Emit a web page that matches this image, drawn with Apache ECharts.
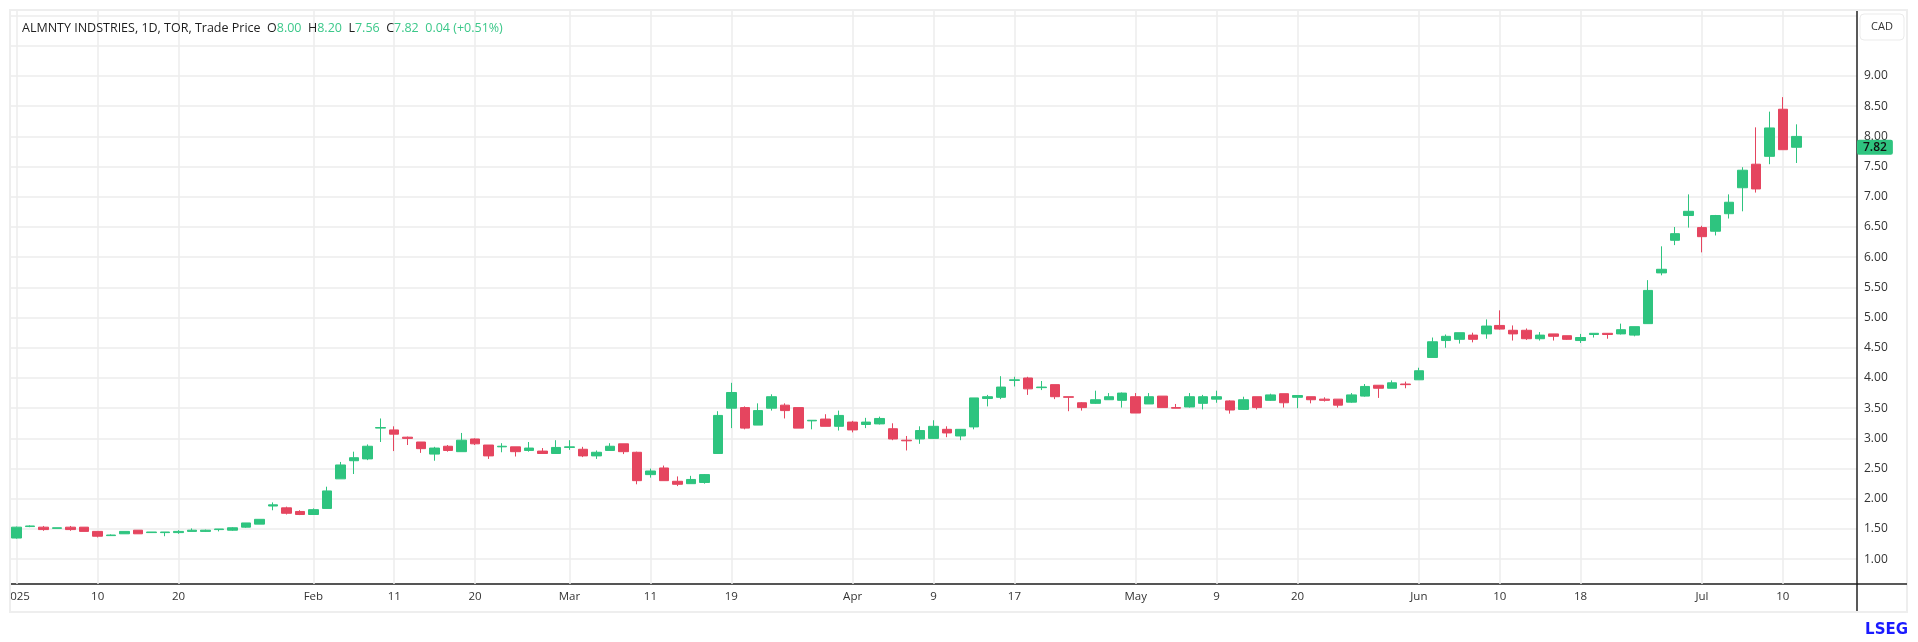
<!DOCTYPE html>
<html>
<head>
<meta charset="utf-8">
<title>ALMNTY INDSTRIES</title>
<script src="https://cdn.jsdelivr.net/npm/echarts@6/dist/echarts.min.js"></script>
<style>
  html, body { margin: 0; padding: 0; background: #fff; }
  #main { width: 1918px; height: 642px; }
</style>
</head>
<body>
<div id="main"></div>
<script type="text/javascript">
// trading days (TSX, 2025)
var dates = [
  '2025-01-02','2025-01-03','2025-01-06','2025-01-07','2025-01-08','2025-01-09','2025-01-10','2025-01-13','2025-01-14','2025-01-15',
  '2025-01-16','2025-01-17','2025-01-20','2025-01-21','2025-01-22','2025-01-23','2025-01-24','2025-01-27','2025-01-28','2025-01-29',
  '2025-01-30','2025-01-31',
  '2025-02-03','2025-02-04','2025-02-05','2025-02-06','2025-02-07','2025-02-10','2025-02-11','2025-02-12','2025-02-13','2025-02-14',
  '2025-02-18','2025-02-19','2025-02-20','2025-02-21','2025-02-24','2025-02-25','2025-02-26','2025-02-27','2025-02-28',
  '2025-03-03','2025-03-04','2025-03-05','2025-03-06','2025-03-07','2025-03-10','2025-03-11','2025-03-12','2025-03-13','2025-03-14',
  '2025-03-17','2025-03-18','2025-03-19','2025-03-20','2025-03-21','2025-03-24','2025-03-25','2025-03-26','2025-03-27','2025-03-28',
  '2025-03-31',
  '2025-04-01','2025-04-02','2025-04-03','2025-04-04','2025-04-07','2025-04-08','2025-04-09','2025-04-10','2025-04-11','2025-04-14',
  '2025-04-15','2025-04-16','2025-04-17','2025-04-21','2025-04-22','2025-04-23','2025-04-24','2025-04-25','2025-04-28','2025-04-29',
  '2025-04-30',
  '2025-05-01','2025-05-02','2025-05-05','2025-05-06','2025-05-07','2025-05-08','2025-05-09','2025-05-12','2025-05-13','2025-05-14',
  '2025-05-15','2025-05-16','2025-05-20','2025-05-21','2025-05-22','2025-05-23','2025-05-26','2025-05-27','2025-05-28','2025-05-29',
  '2025-05-30',
  '2025-06-02','2025-06-03','2025-06-04','2025-06-05','2025-06-06','2025-06-09','2025-06-10','2025-06-11','2025-06-12','2025-06-13',
  '2025-06-16','2025-06-17','2025-06-18','2025-06-19','2025-06-20','2025-06-23','2025-06-24','2025-06-25','2025-06-26','2025-06-27',
  '2025-06-30',
  '2025-07-02','2025-07-03','2025-07-04','2025-07-07','2025-07-08','2025-07-09','2025-07-10','2025-07-11'
];

var opens = [
  1.35,1.54,1.53,1.51,1.53,1.53,1.46,1.39,1.42,1.48, 1.44,1.44,1.44,1.46,1.46,1.49,1.48,1.53,1.58,1.88, 1.85,1.79,
  1.74,1.84,2.33,2.63,2.66,3.17,3.14,3.02,2.94,2.74, 2.87,2.78,2.99,2.89,2.86,2.86,2.80,2.79,2.75,
  2.85,2.82,2.71,2.80,2.91,2.77,2.40,2.51,2.29,2.25, 2.27,2.75,3.50,3.51,3.22,3.50,3.55,3.51,3.29,3.32, 3.20,
  3.27,3.23,3.24,3.16,2.97,2.99,3.00,3.15,3.04,3.19, 3.66,3.68,3.96,4.00,3.84,3.89,3.69,3.59,3.58,3.64, 3.63,
  3.69,3.57,3.70,3.51,3.52,3.58,3.65,3.62,3.48,3.69, 3.63,3.74,3.68,3.69,3.65,3.65,3.60,3.70,3.88,3.83, 3.90,
  3.97,4.34,4.62,4.64,4.71,4.73,4.87,4.79,4.79,4.65, 4.73,4.70,4.62,4.72,4.74,4.73,4.71,4.90,5.74,6.28, 6.69,
  6.49,6.43,6.72,7.15,7.54,7.67,8.45,8.00
];
var highs = [
  1.54,1.56,1.55,1.52,1.55,1.53,1.46,1.41,1.46,1.48, 1.45,1.45,1.48,1.51,1.49,1.50,1.53,1.60,1.66,1.94, 1.87,1.81,
  1.84,2.20,2.61,2.78,2.90,3.33,3.20,3.03,2.94,2.86, 2.89,3.09,3.00,2.89,2.92,2.86,2.94,2.84,2.97,
  2.97,2.86,2.80,2.92,2.91,2.78,2.50,2.55,2.37,2.38, 2.41,3.45,3.92,3.53,3.58,3.73,3.58,3.51,3.30,3.40, 3.46,
  3.29,3.34,3.36,3.25,3.04,3.20,3.30,3.20,3.15,3.67, 3.72,4.03,4.02,4.02,3.95,3.89,3.69,3.60,3.79,3.75, 3.76,
  3.75,3.75,3.70,3.57,3.75,3.72,3.79,3.63,3.69,3.69, 3.74,3.74,3.71,3.69,3.68,3.65,3.75,3.90,3.88,3.96, 3.94,
  4.17,4.67,4.72,4.75,4.75,4.97,5.12,4.87,4.82,4.76, 4.73,4.70,4.73,4.74,4.74,4.90,4.85,5.62,6.18,6.50, 7.04,
  6.52,6.70,7.04,7.49,8.15,8.41,8.65,8.20
];
var lows = [
  1.34,1.53,1.47,1.51,1.47,1.46,1.36,1.39,1.42,1.42, 1.44,1.38,1.42,1.46,1.45,1.46,1.47,1.52,1.58,1.81, 1.74,1.73,
  1.74,1.84,2.33,2.41,2.64,2.94,2.79,2.89,2.76,2.63, 2.78,2.78,2.89,2.66,2.77,2.70,2.78,2.75,2.75,
  2.81,2.69,2.66,2.80,2.74,2.24,2.35,2.30,2.21,2.25, 2.25,2.75,3.17,3.15,3.22,3.46,3.33,3.17,3.15,3.20, 3.13,
  3.10,3.17,3.23,2.97,2.80,2.91,2.99,3.02,2.97,3.15, 3.53,3.65,3.86,3.72,3.80,3.65,3.45,3.46,3.57,3.64, 3.51,
  3.42,3.57,3.51,3.50,3.51,3.48,3.59,3.41,3.47,3.48, 3.62,3.51,3.50,3.58,3.61,3.51,3.59,3.69,3.67,3.83, 3.83,
  3.97,4.34,4.50,4.57,4.59,4.65,4.80,4.62,4.63,4.62, 4.62,4.63,4.58,4.67,4.65,4.72,4.69,4.90,5.70,6.20, 6.49,
  6.08,6.36,6.64,6.76,7.07,7.54,7.78,7.56
];
var closes = [
  1.53,1.55,1.49,1.52,1.49,1.46,1.38,1.40,1.46,1.42, 1.45,1.45,1.46,1.48,1.48,1.50,1.52,1.60,1.66,1.90, 1.76,1.74,
  1.82,2.13,2.56,2.68,2.87,3.18,3.07,3.00,2.83,2.84, 2.80,2.97,2.91,2.71,2.87,2.78,2.84,2.75,2.85,
  2.86,2.71,2.77,2.87,2.78,2.30,2.46,2.30,2.24,2.32, 2.40,3.38,3.76,3.17,3.46,3.69,3.46,3.17,3.30,3.20, 3.38,
  3.14,3.27,3.33,2.99,2.96,3.13,3.20,3.09,3.15,3.67, 3.69,3.85,3.97,3.82,3.85,3.69,3.68,3.51,3.64,3.69, 3.75,
  3.42,3.69,3.51,3.50,3.69,3.69,3.69,3.47,3.64,3.51, 3.72,3.59,3.71,3.64,3.63,3.55,3.72,3.86,3.83,3.92, 3.89,
  4.12,4.60,4.69,4.75,4.64,4.86,4.81,4.73,4.65,4.71, 4.69,4.64,4.67,4.74,4.72,4.80,4.85,5.45,5.80,6.39, 6.76,
  6.34,6.69,6.91,7.44,7.13,8.14,7.78,7.82
];

// x axis tick labels
var tickDates = ['2025-01-02','2025-01-10','2025-01-20','2025-02-03','2025-02-11','2025-02-20','2025-03-03','2025-03-11','2025-03-19','2025-04-01',
                 '2025-04-09','2025-04-17','2025-05-01','2025-05-09','2025-05-20','2025-06-02','2025-06-10','2025-06-18','2025-07-02','2025-07-10'];
var tickLabels = ['2025','10','20','Feb','11','20','Mar','11','19','Apr','9','17','May','9','20','Jun','10','18','Jul','10'];

var instrument = 'ALMNTY INDSTRIES, 1D, TOR, Trade Price';
var currency = 'CAD';

var UP = '#2ec47f', DOWN = '#e5455f';
var FONT = '"Open Sans", "Noto Sans", sans-serif';

// candles coloured by close vs previous close
var candleData = dates.map(function (d, i) {
  var prev = i > 0 ? closes[i - 1] : opens[i];
  var c = closes[i] >= prev ? UP : DOWN;
  return {
    value: [opens[i], closes[i], lows[i], highs[i]],
    itemStyle: { color: c, color0: c, borderColor: c, borderColor0: c }
  };
});

var n = dates.length;
var last = n - 1;
var chg = closes[last] - closes[last - 1];
var pct = chg / closes[last - 1] * 100;
var categories = dates.concat(['', '', '', '']); // empty room right of the last candle

var myChart = echarts.init(document.getElementById('main'));

var gridLines = tickDates.map(function (d) { return { xAxis: d }; });

myChart.setOption({
  animation: false,
  backgroundColor: '#ffffff',
  title: {
    left: 17,
    top: 17,
    text: '{n|' + instrument + '}  {n|O}{g|' + opens[last].toFixed(2) + '}  {n|H}{g|' + highs[last].toFixed(2) +
          '}  {n|L}{g|' + lows[last].toFixed(2) + '}  {n|C}{g|' + closes[last].toFixed(2) + '}  {g|' +
          chg.toFixed(2) + ' (+' + pct.toFixed(2) + '%)}',
    textStyle: {
      fontFamily: FONT,
      fontSize: 12.5,
      fontWeight: 'normal',
      color: '#222',
      rich: {
        n: { color: '#1e1e1e', fontFamily: FONT, fontSize: 12.5 },
        g: { color: '#3cc88a', fontFamily: FONT, fontSize: 12.5 }
      }
    }
  },
  grid: { left: 10, right: 61, top: 10, bottom: 58 },
  xAxis: {
    type: 'category',
    data: categories,
    boundaryGap: true,
    axisLine: { lineStyle: { color: '#222', width: 1.5 } },
    axisTick: { show: false },
    splitLine: { show: false },
    axisLabel: {
      interval: function (idx, val) { return tickDates.indexOf(val) >= 0; },
      formatter: function (val) { return tickLabels[tickDates.indexOf(val)]; },
      color: '#333',
      fontFamily: FONT,
      fontSize: 11.5,
      margin: 7
    }
  },
  yAxis: {
    type: 'value',
    position: 'right',
    scale: true,
    min: 0.589,
    max: 10.093,
    splitNumber: 19,
    axisLine: { show: true, lineStyle: { color: '#222', width: 1.5 } },
    axisTick: { show: false },
    splitLine: { show: true, lineStyle: { color: '#ededed', width: 1.5 } },
    axisLabel: {
      showMinLabel: false,
      showMaxLabel: false,
      formatter: function (v) { return (v >= 1 && v <= 9) ? v.toFixed(2) : ''; },
      color: '#333',
      fontFamily: FONT,
      fontSize: 12,
      margin: 7
    }
  },
  graphic: [
    { type: 'rect', z: 100, shape: { x: 0, y: 585, width: 9, height: 30 }, style: { fill: '#fff' } },
    { type: 'rect', z: 101, shape: { x: 10, y: 10, width: 1897, height: 602 }, style: { fill: 'none', stroke: '#eeeeee', lineWidth: 2 } },
    { type: 'line', z: 102, shape: { x1: 1857, y1: 584, x2: 1907, y2: 584 }, style: { stroke: '#222', lineWidth: 1.5 } },
    { type: 'line', z: 102, shape: { x1: 1857, y1: 584, x2: 1857, y2: 611 }, style: { stroke: '#222', lineWidth: 1.5 } },
    { type: 'rect', z: 102, shape: { x: 1860, y: 14, width: 44, height: 26, r: 4 }, style: { fill: '#fff', stroke: '#ebebeb', lineWidth: 1 } },
    { type: 'text', z: 103, style: { x: 1882, y: 27, text: currency, align: 'center', verticalAlign: 'middle', fill: '#333', font: '11px "Open Sans", sans-serif' } },
    { type: 'text', z: 103, style: { x: 1908, y: 630, text: 'LSEG', align: 'right', verticalAlign: 'middle', fill: '#1a1aff', font: 'bold 15px "DejaVu Sans", sans-serif' } }
  ],
  series: [{
    name: 'Trade Price',
    type: 'candlestick',
    data: candleData,
    barWidth: 10,
    clip: true,
    itemStyle: { borderWidth: 1 },
    markLine: {
      silent: true,
      z: 1,
      symbol: ['none', 'none'],
      animation: false,
      label: { show: false },
      emphasis: { disabled: true },
      lineStyle: { color: '#ededed', width: 1.5, type: 'solid' },
      data: gridLines
    }
  }, {
    // last price tag on the price scale
    name: 'Last',
    type: 'line',
    data: [],
    silent: true,
    z: 5,
    markLine: {
      silent: true,
      z: 5,
      symbol: ['none', 'none'],
      animation: false,
      lineStyle: { color: 'rgba(0,0,0,0)', width: 0 },
      label: {
        show: true,
        position: 'end',
        distance: 0,
        formatter: closes[last].toFixed(2),
        backgroundColor: UP,
        color: '#111',
        fontFamily: FONT,
        fontSize: 12,
        fontWeight: 600,
        padding: [2, 6, 1, 6],
        borderRadius: 2
      },
      data: [{ yAxis: closes[last] }]
    }
  }]
});
</script>
</body>
</html>
